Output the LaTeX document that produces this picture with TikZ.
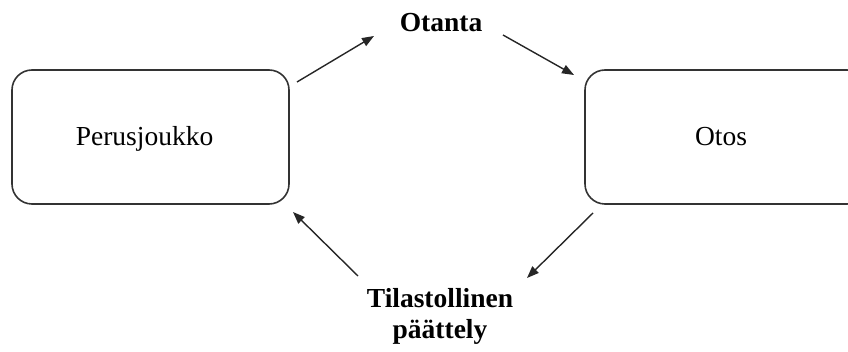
\documentclass[tikz,border=0pt]{standalone}
\usepackage{fontspec}
\setmainfont{Liberation Serif}
\usetikzlibrary{arrows.meta}
\begin{document}
\begin{tikzpicture}[x=1pt,y=-1pt,
  box/.style={draw=black!80, line width=1.6pt, rounded corners=20pt,
    minimum height=134pt, inner sep=0pt},
  txt/.style={font=\fontsize{27.5}{33}\selectfont, inner sep=0pt, anchor=base},
  lbl/.style={font=\fontsize{27.5}{31}\selectfont\bfseries, align=center,
    inner sep=0pt, anchor=base},
  flow/.style={draw=black!85, line width=1.4pt,
    -{Triangle[length=12pt,width=9pt]}}]
  \clip (0,0) rectangle (848,352);
  % the two boxes (the right one runs past the page edge)
  \node[box, minimum width=277pt] (pop) at (150.5,137) {};
  \node[box, minimum width=282pt] (smp) at (726,137) {};
  \node[txt] (popt) at (144.5,146) {Perusjoukko};
  \node[txt] (smpt) at (721,146) {Otos};
  % process labels
  \node[lbl] (otanta) at (441,32) {Otanta};
  \node[lbl] (infer) at (440,338) {Tilastollinen\\päättely};
  % arrow end points
  \coordinate (a1) at (297,82);
  \coordinate (a2) at (374,36);
  \coordinate (b1) at (503,35);
  \coordinate (b2) at (574,75);
  \coordinate (c1) at (593,213);
  \coordinate (c2) at (527,278);
  \coordinate (d1) at (358,276);
  \coordinate (d2) at (293,212);
  \draw[flow] (a1) -- (a2);
  \draw[flow] (b1) -- (b2);
  \draw[flow] (c1) -- (c2);
  \draw[flow] (d1) -- (d2);
\end{tikzpicture}
\end{document}
